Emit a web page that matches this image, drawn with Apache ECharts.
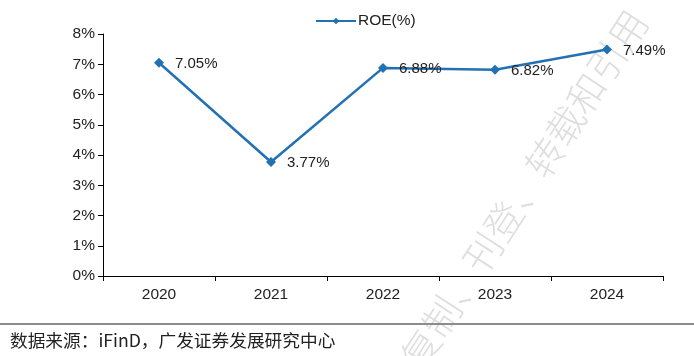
<!DOCTYPE html>
<html><head><meta charset="utf-8">
<script src="https://cdn.jsdelivr.net/npm/echarts@6/dist/echarts.min.js"></script>
<style>html,body{margin:0;padding:0;background:#fff}#c{width:694px;height:356px}</style>
</head><body><div id="c"></div>
<script>
const categories = ['2020', '2021', '2022', '2023', '2024'];
const roeValues = [7.05, 3.77, 6.88, 6.82, 7.49];
const yTicks = [0, 1, 2, 3, 4, 5, 6, 7, 8];
const seriesName = 'ROE(%)';
const sourceText = '数据来源：iFinD，广发证券发展研究中心';
const watermarkText = '禁止复制、刊登、转载和引用';

const chart = echarts.init(document.getElementById('c'), null, {renderer: 'canvas'});
const font = 'Liberation Sans, Arial, sans-serif';
const ang = 57 * Math.PI / 180;
chart.setOption({
  animation: false,
  textStyle: {fontFamily: font},
  grid: {left: 103, right: 31, top: 34, bottom: 80, containLabel: false},
  legend: {
    top: 8, left: 310,
    itemWidth: 40, itemHeight: 8, itemGap: 4,
    textStyle: {fontSize: 15.5, color: '#222', fontFamily: font, padding: [0, 0, 0, -3]},
    data: [seriesName]
  },
  xAxis: {
    type: 'category', data: categories, boundaryGap: true,
    axisLine: {lineStyle: {color: '#000', width: 1}},
    axisTick: {show: true, length: 5, lineStyle: {color: '#000'}},
    axisLabel: {fontSize: 15.5, color: '#222', margin: 11, fontFamily: font}
  },
  yAxis: {
    type: 'value', min: yTicks[0], max: yTicks[yTicks.length - 1], interval: 1,
    axisLine: {show: true, lineStyle: {color: '#000', width: 1}},
    axisTick: {show: true, length: 5, lineStyle: {color: '#000'}},
    splitLine: {show: false},
    axisLabel: {fontSize: 15.5, color: '#222', margin: 8, formatter: v => v + '%', fontFamily: font}
  },
  series: [{
    name: seriesName, type: 'line', data: roeValues,
    symbol: 'diamond', symbolSize: 10,
    lineStyle: {color: '#2271b3', width: 2.5},
    itemStyle: {color: '#2271b3'},
    label: {show: true, position: 'right', distance: 11, fontSize: 15, color: '#222',
      fontFamily: font, formatter: p => p.value.toFixed(2) + '%', offset: [0, 1]}
  }],
  graphic: [
    {type: 'text', x: 638, y: 14, rotation: ang, z: -10,
      style: {text: watermarkText, fontSize: 38, fill: '#dedede', fontWeight: 300,
        fontFamily: 'Noto Sans CJK SC, sans-serif', align: 'right', verticalAlign: 'middle'}},
    {type: 'line', shape: {x1: 0, y1: 324, x2: 694, y2: 324}, style: {stroke: '#8c8c8c', lineWidth: 2}},
    {type: 'text', x: 10, y: 341, scaleX: 1.04,
      style: {text: sourceText, fontSize: 17, fill: '#222', verticalAlign: 'middle',
      fontFamily: 'Noto Sans CJK SC, sans-serif'}}
  ]
});
</script></body></html>
